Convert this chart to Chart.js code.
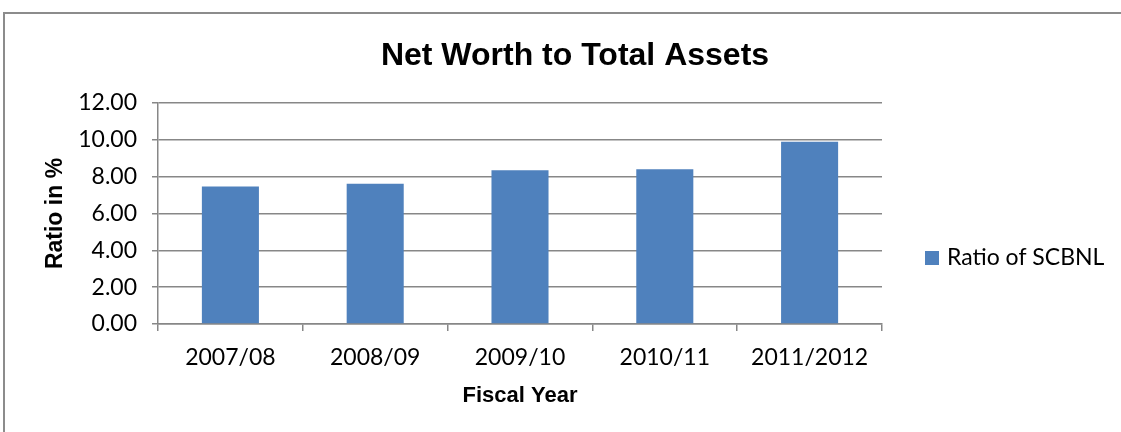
<!DOCTYPE html>
<html>
<head>
<meta charset="utf-8">
<title>Net Worth to Total Assets</title>
<script src="https://cdn.jsdelivr.net/npm/chart.js@4.4.0/dist/chart.umd.min.js"></script>
<style>
    html, body { margin: 0; padding: 0; background: #fff; }
    #wrap { width: 1121px; height: 432px; }
</style>
</head>
<body>
<div id="wrap"><canvas id="myChart" width="1121" height="432"></canvas></div>
<script>
var fiscalYears = ['2007/08', '2008/09', '2009/10', '2010/11', '2011/2012'];
var ratioSCBNL = [7.47, 7.62, 8.35, 8.40, 9.89];
var yTicks = [0, 2, 4, 6, 8, 10, 12];
var seriesName = 'Ratio of SCBNL';

var gridGray = '#878787';
var barBlue = '#4F81BD';

// moldura cinza em volta do grafico (como no Excel)
var frame = {
    id: 'frame',
    beforeDraw: function(chart) {
        var ctx = chart.ctx;
        ctx.save();
        ctx.fillStyle = '#fff';
        ctx.fillRect(0, 0, chart.width, chart.height);
        ctx.strokeStyle = '#8c8c8c';
        ctx.lineWidth = 2;
        ctx.strokeRect(4, 13, chart.width + 20, chart.height + 20);
        ctx.restore();
    }
};

// legenda desenhada a direita, fora da area do grafico
var sideLegend = {
    id: 'sideLegend',
    afterDraw: function(chart) {
        var ctx = chart.ctx;
        var x = chart.chartArea.right + 43;
        ctx.save();
        chart.data.datasets.forEach(function(ds, i) {
            var y = 258 + i * 30;
            ctx.fillStyle = ds.backgroundColor;
            ctx.fillRect(x, y - 7, 14, 14);
            ctx.fillStyle = '#000';
            ctx.font = '23px Lato';
            ctx.textBaseline = 'middle';
            ctx.textAlign = 'left';
            ctx.fillText(ds.label, x + 22, y);
        });
        ctx.restore();
    }
};

function montarGrafico() {
    var ctx = document.getElementById('myChart').getContext('2d');
    return new Chart(ctx, {
        type: 'bar',
        data: {
            labels: fiscalYears,
            datasets: [{
                label: seriesName,
                data: ratioSCBNL,
                backgroundColor: barBlue,
                borderWidth: 0,
                categoryPercentage: 1,
                barPercentage: 0.394
            }]
        },
        options: {
            responsive: false,
            animation: false,
            devicePixelRatio: 1,
            layout: { padding: { left: 29, right: 0, top: 0, bottom: 0 } },
            plugins: {
                legend: { display: false },
                tooltip: { enabled: false },
                title: {
                    display: true,
                    text: 'Net Worth to Total Assets',
                    color: '#000',
                    font: { family: 'Liberation Sans', size: 32, weight: 'bold' },
                    padding: { top: 37, bottom: 27.6 }
                }
            },
            scales: {
                x: {
                    grid: {
                        display: true,
                        offset: true,
                        drawOnChartArea: false,
                        color: gridGray,
                        lineWidth: 1.5,
                        tickLength: 7
                    },
                    border: { display: true, color: gridGray, width: 1.5 },
                    ticks: {
                        color: '#000',
                        font: { family: 'Lato', size: 23 },
                        padding: 13,
                        maxRotation: 0
                    },
                    title: {
                        display: true,
                        text: 'Fiscal Year',
                        color: '#000',
                        font: { family: 'Liberation Sans', size: 22, weight: 'bold' },
                        padding: { top: 0, bottom: 23 }
                    },
                    afterFit: function(scale) { scale.height = 108; }
                },
                y: {
                    min: 0,
                    max: 12,
                    afterBuildTicks: function(axis) {
                        axis.ticks = yTicks.map(function(v) { return { value: v }; });
                    },
                    grid: {
                        color: gridGray,
                        lineWidth: 1.5,
                        tickLength: 6
                    },
                    border: { display: true, color: gridGray, width: 1.5 },
                    ticks: {
                        color: '#000',
                        font: { family: 'Lato', size: 23 },
                        padding: 15,
                        callback: function(v) { return Number(v).toFixed(2); }
                    },
                    title: {
                        display: true,
                        text: 'Ratio in %',
                        color: '#000',
                        font: { family: 'Liberation Sans', size: 23, weight: 'bold' },
                        padding: { top: 13, bottom: 0 }
                    },
                    afterFit: function(scale) { scale.width = 129; }
                },
                // eixo vazio so pra reservar o espaco da legenda
                espaco: {
                    position: 'right',
                    display: true,
                    grid: { display: false },
                    border: { display: false },
                    ticks: { display: false },
                    afterFit: function(scale) { scale.width = 239; }
                }
            }
        },
        plugins: [frame, sideLegend]
    });
}

var myChart = montarGrafico();
</script>
</body>
</html>
